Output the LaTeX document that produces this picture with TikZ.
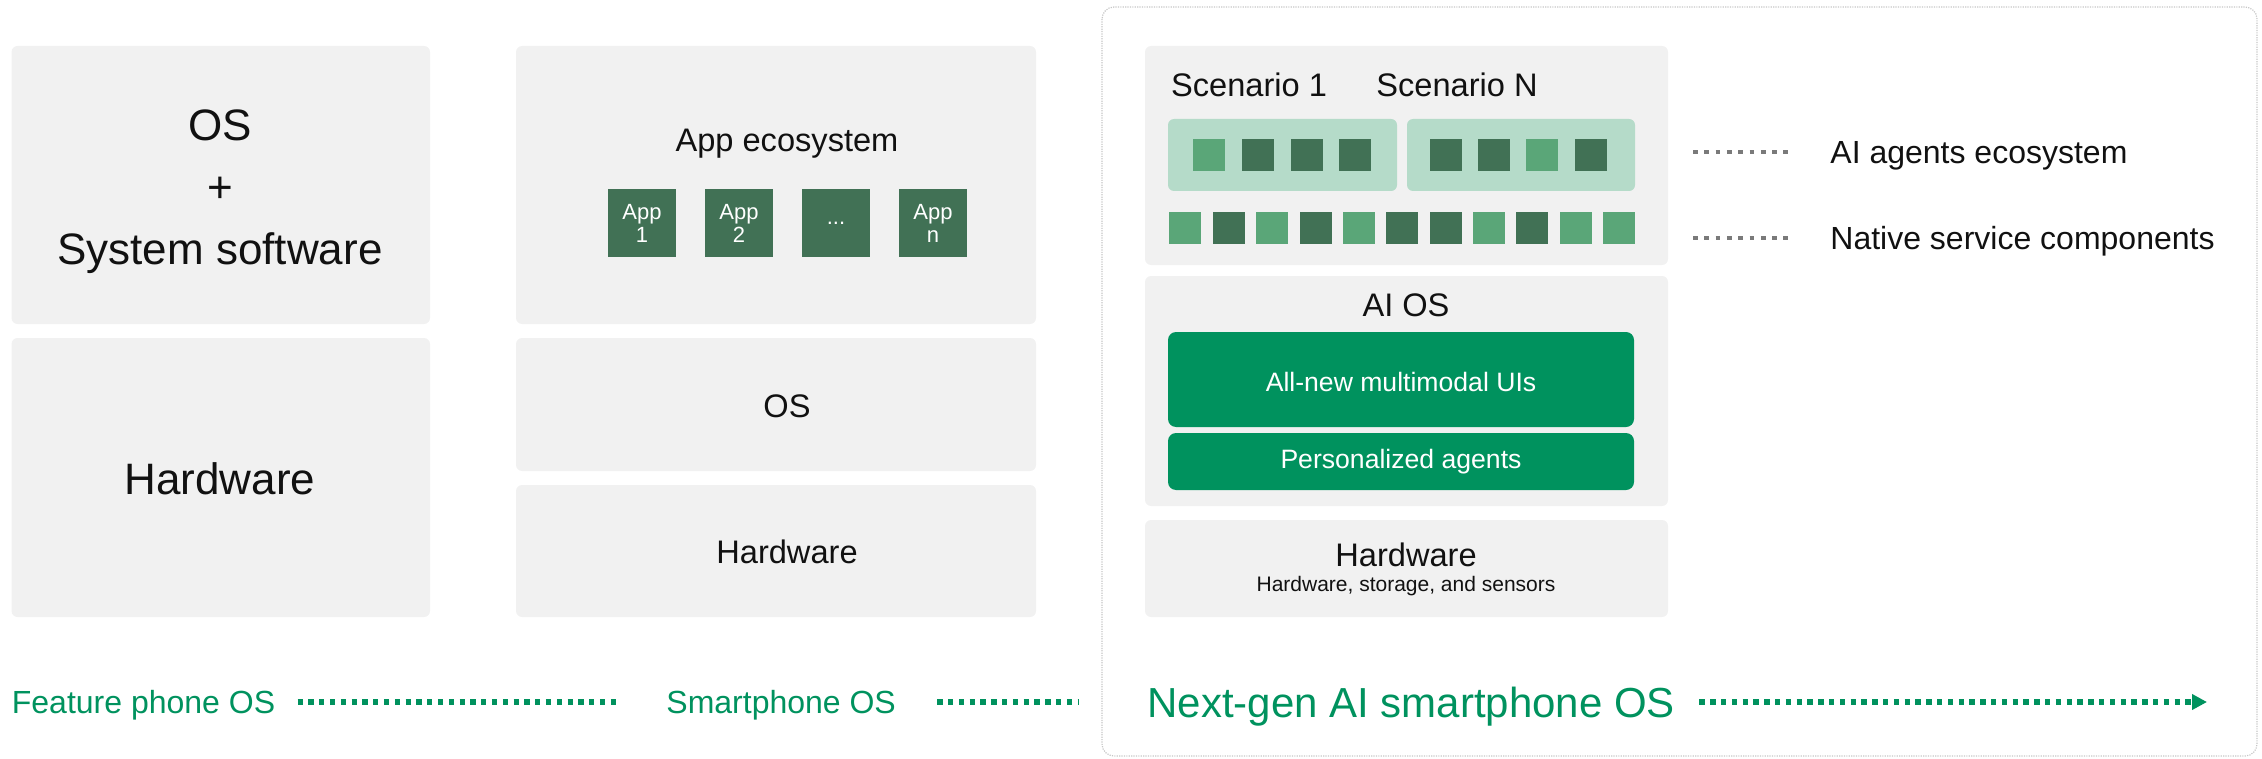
\documentclass[tikz,border=0pt]{standalone}
\usepackage{fontspec}
\setmainfont{Liberation Sans}
\usetikzlibrary{arrows.meta}
\definecolor{boxgray}{HTML}{F1F1F1}
\definecolor{aigreen}{HTML}{00925E}
\definecolor{scenebg}{HTML}{B5DBC9}
\definecolor{cellL}{HTML}{5AA678}
\definecolor{cellD}{HTML}{417155}
\definecolor{leadgray}{HTML}{7A7A7A}
\definecolor{inkblack}{HTML}{111111}

\begin{document}
\begin{tikzpicture}[x=0.5pt, y=-0.5pt,
  layer/.style={fill=boxgray, rounded corners=3pt},
  scene/.style={fill=scenebg, rounded corners=3pt},
  gbox/.style={fill=aigreen, rounded corners=4pt},
  panel/.style={draw=gray!45, line width=0.6pt, dash pattern=on 0.6pt off 0.6pt, rounded corners=6pt},
  big/.style={inner sep=0pt, text=inkblack, align=center, font=\fontsize{22}{31}\selectfont},
  mid/.style={inner sep=0pt, text depth=0pt, text=inkblack, font=\fontsize{16.3}{20}\selectfont},
  small/.style={inner sep=0pt, text=inkblack, font=\fontsize{10.5}{12}\selectfont},
  onbox/.style={inner sep=0pt, text depth=0pt, text=white, font=\fontsize{13.3}{16}\selectfont},
  appcell/.style={fill=cellD, minimum size=34pt, inner sep=0pt, text=white, align=center, font=\fontsize{11}{11.5}\selectfont},
  note/.style={inner sep=0pt, anchor=west, text depth=0pt, text=inkblack, font=\fontsize{16}{19}\selectfont},
  stage/.style={inner sep=0pt, anchor=west, text depth=0pt, text=aigreen, font=\fontsize{16}{19}\selectfont},
  leader/.style={leadgray, line width=2.35pt, dash pattern=on 2.35pt off 3.3pt},
  flow/.style={aigreen, line width=2.65pt, dash pattern=on 2.65pt off 2.75pt}]
\useasboundingbox (0,0) rectangle (2262,759);

% 功能机
\fill[layer] (11.5,46) rectangle (430,324);
\fill[layer] (11.5,338) rectangle (430,617);
\node[big] (fos) at (220,192) {OS\\+\\System software};
\node[big] (fhw) at (220,479) {Hardware};

% 智能机
\fill[layer] (516,46) rectangle (1036,324);
\fill[layer] (516,338) rectangle (1036,471);
\fill[layer] (516,485) rectangle (1036,617);
\node[mid] (appeco) at (787,140) {App ecosystem};
\foreach \x/\t [count=\i] in {608/{App\\1}, 705/{App\\2}, 802/{...}, 899/{App\\n}}
  \node[appcell] (app\i) at (\x+34,223) {\t};
\node[mid] (mos) at (787,406) {OS};
\node[mid] (mhw) at (787,552) {Hardware};

% AI 手机
\draw[panel] (1102,7) rectangle (2257,756);
\fill[layer] (1145,46) rectangle (1668,265);
\fill[layer] (1145,276) rectangle (1668,506);
\fill[layer] (1145,520) rectangle (1668,617);

\node[mid] (scen1) at (1249,85) {Scenario 1};
\node[mid] (scenN) at (1457,85) {Scenario N};
\fill[scene] (1168,119) rectangle (1397,191);
\fill[scene] (1407,119) rectangle (1635,191);
\foreach \x/\c in {1193/cellL, 1242/cellD, 1291/cellD, 1339/cellD,
                   1430/cellD, 1478/cellD, 1526/cellL, 1575/cellD}
  \fill[\c] (\x,139) rectangle ++(32,32);

\foreach \x/\c in {1169/cellL, 1213/cellD, 1256/cellL, 1300/cellD, 1343/cellL, 1386/cellD,
                   1430/cellD, 1473/cellL, 1516/cellD, 1560/cellL, 1603/cellL}
  \fill[\c] (\x,212) rectangle ++(32,32);

\node[mid] (aios) at (1406,305) {AI OS};
\fill[gbox] (1168,332) rectangle (1634,427);
\fill[gbox] (1168,433) rectangle (1634,490);
\node[onbox] (uis) at (1401,382) {All-new multimodal UIs};
\node[onbox] (pers) at (1401,459) {Personalized agents};

\node[mid] (rhw) at (1406,555) {Hardware};
\node[small] (rhwsub) at (1406,586) {Hardware, storage, and sensors};

% 右侧说明
\node[note] (agents) at (1830,152) {AI agents ecosystem};
\node[note] (native) at (1830,238) {Native service components};
\coordinate (lead1) at (1693,152);
\coordinate (lead2) at (1693,238);
\draw[leader, shorten >=18pt] (lead1) -- (agents.west);
\draw[leader, shorten >=18pt] (lead2) -- (native.west);

% 演进
\node[stage] (feature) at (11.5,702) {Feature phone OS};
\node[stage] (smart) at (666,702) {Smartphone OS};
\node[stage, font=\fontsize{21}{25}\selectfont] (nextgen) at (1147,702) {Next-gen AI smartphone OS};
\coordinate (gapend) at (1079,702);
\coordinate (arrowend) at (2207,702);
\draw[flow, shorten <=11pt, shorten >=23pt] (feature.east) -- (smart.west);
\draw[flow, shorten <=20.5pt] (smart.east) -- (gapend);
\draw[flow, shorten <=12pt, -{Triangle[length=7.5pt, width=7.5pt]}] (nextgen.east) -- (arrowend);
\end{tikzpicture}
\end{document}
